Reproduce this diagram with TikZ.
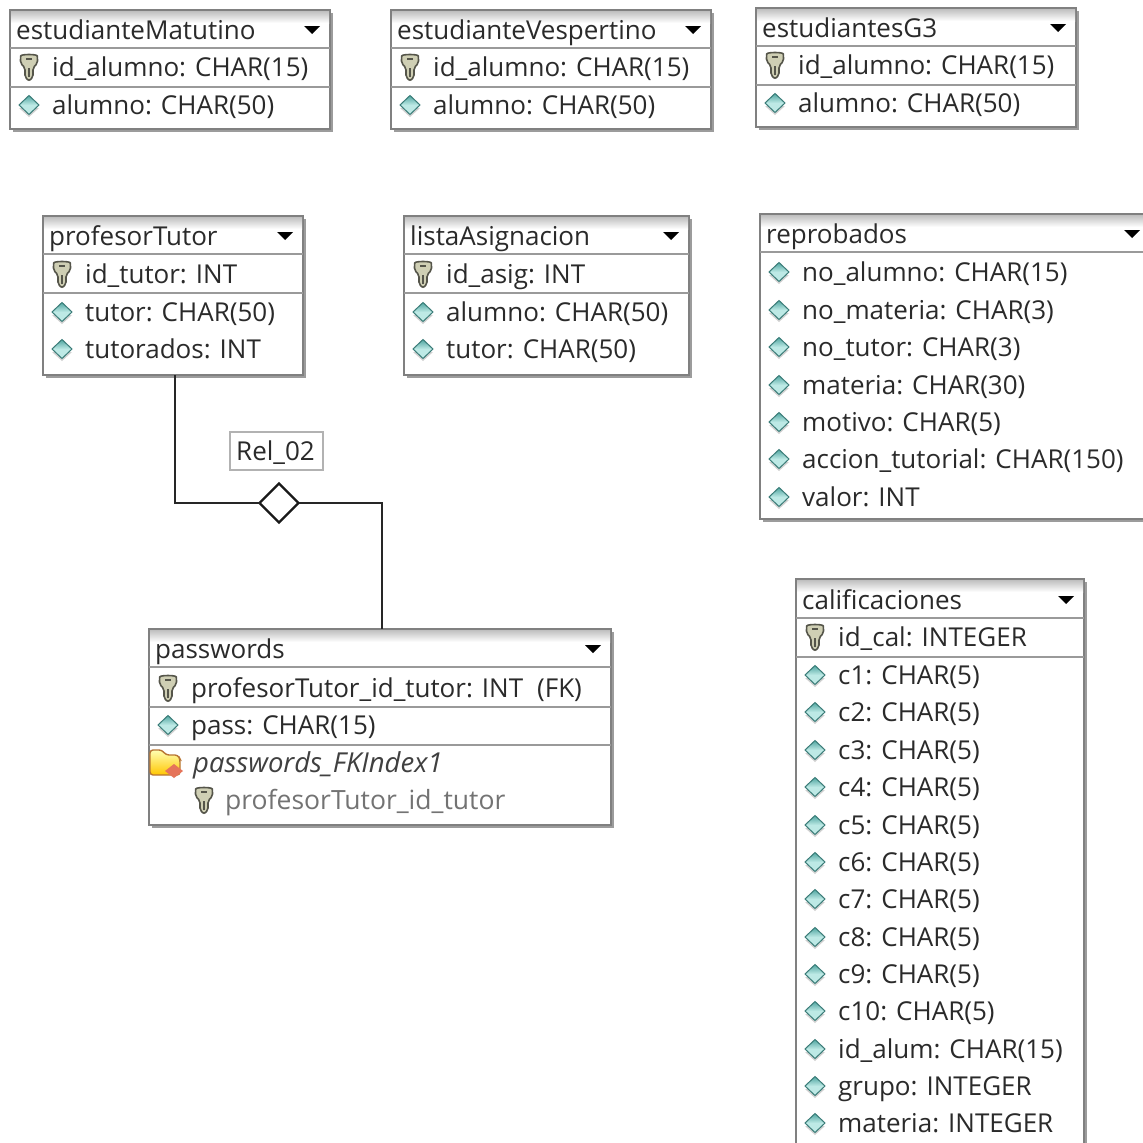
\documentclass[tikz,border=0pt]{standalone}
\usepackage{fontspec}
\setmainfont{Open Sans}
\usetikzlibrary{shapes.geometric,calc}
\definecolor{ink}{HTML}{2A2A2A}
\definecolor{rule}{HTML}{9A9A9A}
\definecolor{edge}{HTML}{808080}
\definecolor{shadowc}{HTML}{9C9C9C}
\definecolor{teal1}{HTML}{BDE9E5}
\definecolor{teal2}{HTML}{4FA5A0}
\definecolor{keyc}{HTML}{CFCFB4}
\definecolor{keyd}{HTML}{55554A}
\tikzset{
  tablebox/.style={draw=edge,line width=1.5pt,fill=white,inner sep=0pt,outer sep=0pt,anchor=north west},
  sepline/.style={draw=rule,line width=1.5pt},
  rowtext/.style={text=ink,inner sep=0pt,anchor=base west,font=\fontsize{26}{30}\selectfont},
  greytext/.style={rowtext,text=black!55,font=\fontsize{26.5}{30}\selectfont},
  itext/.style={rowtext,text=black!75,font=\fontsize{27.5}{30}\selectfont\itshape},
  connector/.style={draw=black!85,line width=2.5pt},
  reldiamond/.style={draw=black!90,line width=2.4pt,fill=white,diamond,aspect=1,inner sep=0pt,outer sep=0pt,minimum width=39pt,minimum height=39pt},
  rellabel/.style={draw=black!30,line width=1.2pt,fill=white,inner sep=0pt,outer sep=0pt,minimum width=93pt,minimum height=38pt},
}
\newcommand\keyicon[2]{%
  \begin{scope}[shift={(#1,#2)}]
    \draw[fill=keyc,draw=keyd,line width=1.6pt,rounded corners=2pt]
      (-8.5,-9) .. controls (-8,-13) and (8,-13) .. (8.5,-9) -- (8.5,-4) -- (4,1) -- (4,10) -- (0,14) -- (-4,10) -- (-4,1) -- (-8.5,-4) -- cycle;
    \draw[draw=keyd,line width=2pt] (-3,-8) -- (3,-8);
    \draw[draw=keyd,line width=1.4pt] (0,1) -- (0,10);
  \end{scope}}
\newcommand\attricon[2]{%
  \fill[black!18] (#1,#2+12) -- ++(10,-9) -- ++(-20,0) -- cycle;
  \shade[top color=teal2,bottom color=teal1,middle color=teal1,draw=teal2!75!black,line width=1pt] (#1-10,#2) -- (#1,#2-9.5) -- (#1+10,#2) -- (#1,#2+9.5) -- cycle;}
\newcommand\foldericon[2]{%
  \begin{scope}[shift={(#1,#2)}]
    \shade[top color=yellow!30!white,bottom color=orange!45!yellow,draw=black!35!orange!80,line width=1.4pt,rounded corners=3pt]
      (-20,-13) -- (-8,-13) -- (-4,-8) -- (8,-8) -- (10,-4) -- (10,12) -- (-20,12) -- cycle;
    \fill[red!45!brown!75] (4,1) -- (13,8) -- (4,15) -- (-5,8) -- cycle;
  \end{scope}}
% name, x0, y0, x1, y1, title, header bottom
\newcommand\dbtable[7]{%
  \fill[shadowc] (#2+3,#3+3) rectangle (#4+3,#5+3);
  \node[tablebox,minimum width=#4-#2,minimum height=#5-#3] (#1) at (#2,#3) {};
  \shade[top color=black!25,bottom color=white] (#2+1,#3+1) rectangle (#4-1,#3+13);
  \draw[sepline] (#2,#7) -- (#4,#7);
  \node[rowtext] (#1title) at (#2+6,#7-8.5) {#6};
  \fill[black] (#4-26,#7-22) -- (#4-10,#7-22) -- (#4-18,#7-14) -- cycle;}
\newcommand\pkrow[4]{\keyicon{#2+19}{#3}\node[rowtext] (#1) at (#2+42,#3+9.5) {#4};}
\newcommand\atrow[4]{\attricon{#2+19}{#3}\node[rowtext] (#1) at (#2+42,#3+9.5) {#4};}
\begin{document}
\begin{tikzpicture}[x=1pt,y=-1pt]
\useasboundingbox (0,0) rectangle (1143,1143);
\fill[white] (0,0) rectangle (1143,1143);

\dbtable{em}{10}{10}{330}{129}{estudianteMatutino}{48}
\pkrow{ema}{10}{67}{id\_alumno: CHAR(15)}
\draw[sepline] (10,87) -- (330,87);
\atrow{emb}{10}{105}{alumno: CHAR(50)}

\dbtable{ev}{391}{10}{711}{129}{estudianteVespertino}{48}
\pkrow{eva}{391}{67}{id\_alumno: CHAR(15)}
\draw[sepline] (391,87) -- (711,87);
\atrow{evb}{391}{105}{alumno: CHAR(50)}

\dbtable{eg}{756}{8}{1076}{127}{estudiantesG3}{46}
\pkrow{ega}{756}{65}{id\_alumno: CHAR(15)}
\draw[sepline] (756,85) -- (1076,85);
\atrow{egb}{756}{103}{alumno: CHAR(50)}

\dbtable{pt}{43}{216}{303}{375}{profesorTutor}{254}
\pkrow{pta}{43}{274}{id\_tutor: INT}
\draw[sepline] (43,293) -- (303,293);
\atrow{ptb}{43}{312}{tutor: CHAR(50)}
\atrow{ptc}{43}{349}{tutorados: INT}

\dbtable{la}{404}{216}{689}{375}{listaAsignacion}{254}
\pkrow{laa}{404}{274}{id\_asig: INT}
\draw[sepline] (404,293) -- (689,293);
\atrow{lab}{404}{312}{alumno: CHAR(50)}
\atrow{lac}{404}{349}{tutor: CHAR(50)}

\dbtable{re}{760}{214}{1150}{519}{reprobados}{252}
\atrow{rea}{760}{272}{no\_alumno: CHAR(15)}
\atrow{reb}{760}{310}{no\_materia: CHAR(3)}
\atrow{rec}{760}{347}{no\_tutor: CHAR(3)}
\atrow{red}{760}{385}{materia: CHAR(30)}
\atrow{ree}{760}{422}{motivo: CHAR(5)}
\atrow{ref}{760}{459}{accion\_tutorial: CHAR(150)}
\atrow{reg}{760}{497}{valor: INT}

\dbtable{ca}{796}{579}{1084}{1150}{calificaciones}{618}
\pkrow{caa}{796}{637}{id\_cal: INTEGER}
\draw[sepline] (796,657) -- (1084,657);
\atrow{cb1}{796}{675}{c1: CHAR(5)}
\atrow{cb2}{796}{712}{c2: CHAR(5)}
\atrow{cb3}{796}{750}{c3: CHAR(5)}
\atrow{cb4}{796}{787}{c4: CHAR(5)}
\atrow{cb5}{796}{825}{c5: CHAR(5)}
\atrow{cb6}{796}{862}{c6: CHAR(5)}
\atrow{cb7}{796}{899}{c7: CHAR(5)}
\atrow{cb8}{796}{937}{c8: CHAR(5)}
\atrow{cb9}{796}{974}{c9: CHAR(5)}
\atrow{cb10}{796}{1011}{c10: CHAR(5)}
\atrow{cb11}{796}{1049}{id\_alum: CHAR(15)}
\atrow{cb12}{796}{1086}{grupo: INTEGER}
\atrow{cb13}{796}{1123}{materia: INTEGER}

\dbtable{pw}{149}{629}{611}{825}{passwords}{667}
\pkrow{pwa}{149}{688}{profesorTutor\_id\_tutor: INT\hspace{14pt}(FK)}
\draw[sepline] (149,707) -- (611,707);
\atrow{pwb}{149}{725}{pass: CHAR(15)}
\draw[sepline] (149,745) -- (611,745);
\foldericon{170}{763}
\node[itext] (pwc) at (193,772) {passwords\_FKIndex1};
\keyicon{204}{800}
\node[greytext] (pwd) at (225,809) {profesorTutor\_id\_tutor};

\node[reldiamond] (rel) at (279,503) {};
\node[rellabel] (rellab) at (276.5,451) {};
\node[rowtext] (rellabt) at (236,460) {Rel\_02};
\draw[connector] ($(pt.south)+(2,0)$) |- (rel.west);
\draw[connector] (rel.east) -| ($(pw.north)+(2,0)$);
\end{tikzpicture}
\end{document}
